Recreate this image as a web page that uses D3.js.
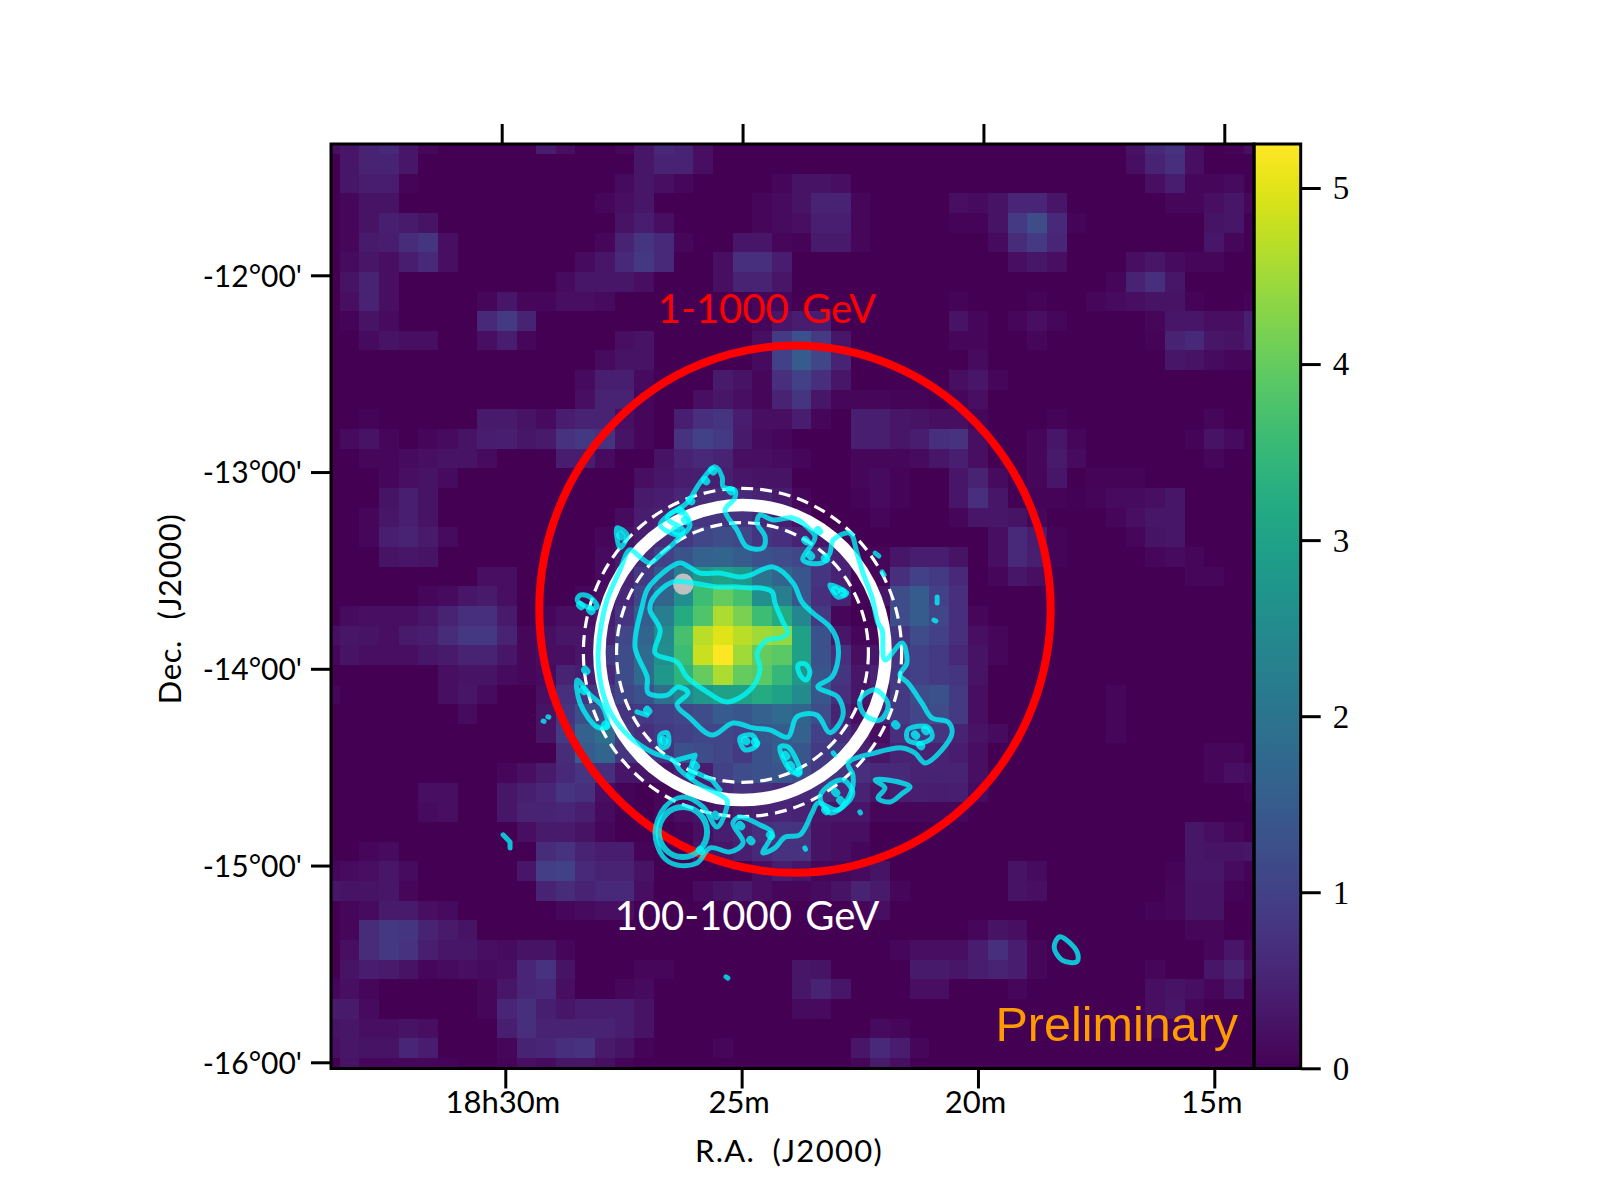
<!DOCTYPE html>
<html><head><meta charset="utf-8">
<style>html,body{margin:0;padding:0;background:#fff}svg{display:block}</style>
<script src="https://cdn.jsdelivr.net/npm/d3@7"></script></head>
<body><svg id="c" width="1600" height="1200"></svg>
<script>
// Significance map, one object per map row: {column: value in hundredths}
const heatRows=[
{0:20,1:30,2:50,3:60,4:30,5:10,11:40,12:20,15:10,16:30,17:60,18:50,19:20,41:25,42:60,43:75,44:20,46:5,47:20},
{1:30,2:50,3:50,4:30,16:30,17:50,18:50,19:20,41:20,42:50,43:70,44:20},
{1:30,2:40,3:40,4:5,15:15,16:30,17:20,18:10,23:10,24:25,25:25,26:20,42:20,43:40,44:10,45:10,46:15},
{1:10,2:25,3:25,14:10,15:20,16:30,22:10,23:15,24:25,25:50,26:50,27:10,32:20,33:15,34:25,35:55,36:55,37:30,43:10,44:10,45:20,46:30,47:10},
{1:10,2:25,3:45,4:35,5:25,15:25,16:40,17:20,22:10,23:15,24:20,25:45,26:45,27:10,32:5,33:5,34:25,35:90,36:120,37:60,38:5,45:25,46:30},
{1:10,2:35,3:40,4:65,5:80,6:20,14:10,15:50,16:80,17:60,18:10,21:30,22:30,23:10,24:5,25:35,26:35,27:10,34:15,35:65,36:90,37:55,45:30,46:10},
{1:15,2:30,3:20,4:40,5:60,6:20,13:15,14:30,15:60,16:85,17:60,20:20,21:70,22:70,23:40,35:20,36:30,37:20,41:20,42:30,43:15,44:10,45:10},
{1:25,2:50,3:20,12:15,13:30,14:30,15:30,16:20,20:20,21:50,22:50,23:30,40:10,41:50,42:70,43:30},
{1:20,2:50,3:20,8:10,9:30,10:10,11:10,12:20,13:20,14:15,22:10,23:10,32:5,36:5,39:10,40:15,41:20,42:25,43:25,44:5,47:5},
{1:5,2:25,3:15,8:60,9:90,10:50,22:10,23:30,24:40,25:40,32:25,33:10,35:10,36:20,37:10,42:10,43:30,44:30,45:20,46:20,47:45},
{2:15,3:25,4:20,5:20,8:20,9:40,10:10,15:20,16:25,22:20,23:90,24:130,25:90,26:30,32:10,33:10,36:10,42:5,43:50,44:60,45:30,46:25,47:40},
{14:15,15:25,16:25,22:15,23:100,24:150,25:110,26:50,33:15,43:30,44:25,45:15,46:10,47:10},
{13:15,14:45,15:45,16:15,20:35,21:25,22:10,23:70,24:100,25:70,26:30,32:20,33:30,34:10},
{13:20,14:50,15:50,16:10,19:20,20:30,21:20,22:10,23:50,24:80,25:30,26:10,27:10,28:10,29:5,30:5,32:10,33:20},
{2:5,8:35,9:35,10:25,11:15,12:40,13:50,14:50,15:20,16:10,18:45,19:70,20:80,21:40,22:20,23:20,24:40,25:10,27:45,28:45,29:30,30:25,31:20,32:20,33:10,37:5,45:10},
{1:15,2:25,3:10,5:10,6:15,7:25,8:40,9:45,10:30,11:35,12:75,13:85,14:75,15:25,16:10,18:75,19:100,20:90,21:35,22:15,23:10,27:45,28:45,29:30,30:40,31:70,32:75,33:20,36:10,37:30,38:10,44:5,45:25,46:15},
{2:10,3:10,4:15,5:20,6:25,7:25,8:15,12:40,13:40,14:15,17:25,18:50,19:60,20:50,21:20,22:20,23:15,24:10,27:10,28:10,29:10,30:15,31:30,32:45,33:20,36:10,37:35,38:15,45:10},
{3:10,4:20,5:25,6:15,16:20,17:30,18:40,19:45,20:45,21:30,22:25,23:25,27:10,28:15,29:5,32:30,33:50,34:15,36:10,37:30,39:5,40:5,41:5},
{3:25,4:45,5:25,16:35,17:40,18:55,19:65,20:70,21:60,22:50,23:35,24:10,27:5,28:15,29:5,32:30,33:70,34:30,36:5,37:5,38:3,39:8,40:15,41:15,42:20,43:30},
{2:10,3:30,4:45,5:25,15:15,16:40,17:50,18:65,19:80,20:80,21:75,22:60,23:45,24:20,28:10,32:10,33:30,34:30,35:25,36:10,40:10,41:20,42:30,43:30},
{2:10,3:45,4:50,5:35,6:15,14:10,15:25,16:45,17:65,18:85,19:110,20:120,21:110,22:80,23:70,24:50,25:30,26:10,34:20,35:60,36:40,37:5,41:10,42:25,43:30},
{3:25,4:30,5:25,14:15,15:35,16:65,17:100,18:135,19:160,20:170,21:150,22:130,23:120,24:110,25:80,26:50,27:10,28:10,29:30,30:40,31:40,32:25,34:20,35:60,36:45,37:5,42:10,43:15,44:10},
{8:20,9:20,14:15,15:50,16:90,17:135,18:220,19:280,20:300,21:280,22:200,23:170,24:140,25:80,26:50,27:10,28:10,29:70,30:100,31:90,32:60,34:10,35:30,36:20,44:10,45:10},
{5:10,6:15,7:30,8:35,9:20,13:10,14:20,15:60,16:110,17:170,18:260,19:360,20:400,21:370,22:260,23:220,24:140,25:70,26:50,27:5,28:30,29:120,30:150,31:100,32:70},
{1:15,2:20,3:20,4:20,5:30,6:50,7:70,8:70,9:35,11:10,12:20,13:20,14:40,15:80,16:150,17:220,18:320,19:380,20:460,21:420,22:360,23:320,24:240,25:90,26:10,29:120,30:150,31:110,32:70,33:10},
{0:20,1:30,2:25,3:20,4:35,5:40,6:65,7:85,8:85,9:50,10:10,11:20,12:30,13:30,14:50,15:110,16:170,17:250,18:370,19:470,20:500,21:470,22:450,23:440,24:300,25:130,26:30,27:10,28:10,29:80,30:120,31:100,32:70,33:20,34:10},
{0:10,1:25,2:20,3:20,4:20,5:30,6:35,7:50,8:50,9:30,10:10,11:20,12:20,13:30,14:90,15:120,16:180,17:260,18:360,19:480,20:525,21:450,22:400,23:390,24:300,25:130,26:70,27:20,28:30,29:80,30:100,31:90,32:60,33:25,34:10},
{6:20,7:25,8:25,9:15,10:10,11:15,12:50,13:40,14:60,15:120,16:180,17:280,18:340,19:400,20:460,21:400,22:390,23:350,24:280,25:140,26:80,27:30,28:50,29:85,30:100,31:90,32:80,33:25},
{0:10,6:20,7:30,8:15,11:20,12:70,13:80,14:90,15:110,16:130,17:190,18:240,19:280,20:300,21:300,22:320,23:300,24:250,25:140,26:70,27:30,28:40,29:90,30:120,31:130,32:90,33:20,40:10},
{7:15,11:25,12:80,13:125,14:120,15:80,16:90,17:100,18:110,19:120,20:150,21:140,22:160,23:180,24:170,25:120,26:50,27:20,28:50,29:90,30:110,31:120,32:90,33:20,40:10},
{11:25,12:90,13:160,14:190,15:90,16:70,17:90,18:100,19:110,20:110,21:100,22:140,23:150,24:160,25:100,26:70,27:40,28:20,29:70,30:90,31:80,32:50,33:25,34:15,40:10},
{12:65,13:150,14:170,15:80,16:70,17:80,18:130,19:120,20:110,21:90,22:130,23:150,24:140,25:90,26:90,27:50,28:30,29:50,30:50,31:50,32:40,33:20,45:10,46:10},
{9:10,10:20,11:35,12:60,13:80,14:70,15:30,16:30,17:30,18:50,19:40,20:100,21:120,22:130,23:140,24:120,25:90,26:80,27:70,28:60,29:60,30:50,31:50,32:50,33:20,45:10,46:20,47:15},
{5:20,6:20,9:30,10:45,11:55,12:80,13:70,14:20,15:5,17:10,18:10,19:40,20:60,21:75,22:70,23:60,24:60,25:70,26:60,27:50,28:30,29:40,30:45,31:40,32:45,33:15,47:5},
{5:15,6:20,9:30,10:50,11:50,12:55,13:45,14:15,17:10,18:20,19:25,20:30,21:45,22:50,23:55,24:50,25:30,26:30,27:30,28:10,29:10,30:10,31:10,32:10},
{10:20,11:35,12:35,13:25,14:10,18:5,19:20,20:40,21:50,22:70,23:80,24:80,25:25,26:20,27:20,44:30,45:20,46:10},
{2:10,3:15,11:65,12:75,13:50,14:40,15:40,16:5,19:30,20:30,21:45,22:60,23:75,24:75,25:25,26:20,27:10,44:30,45:25,46:25,47:30},
{0:10,1:15,2:20,3:30,4:15,10:30,11:95,12:100,13:60,14:50,15:50,16:25,22:20,23:40,24:30,25:10,26:10,27:15,28:25,35:25,36:15,43:5,44:30,45:30,46:15,47:5},
{0:30,1:25,2:25,3:30,4:10,11:50,12:65,13:50,14:60,15:60,16:20,19:15,20:25,21:35,22:20,23:10,24:10,25:15,26:25,27:50,28:35,29:10,35:25,36:20,43:10,44:25,45:25,46:5},
{1:10,2:15,3:35,4:35,5:20,6:15,12:10,13:15,14:20,15:20,27:10,28:20,42:5,43:10,44:25,45:25},
{1:10,2:65,3:85,4:80,5:50,6:35,7:25,33:10,34:25,35:20,44:10,45:10},
{1:20,2:65,3:85,4:75,5:45,6:30,7:30,8:20,9:15,10:25,11:25,12:10,29:10,30:20,31:20,32:20,33:40,34:70,35:40,36:10,45:10,46:30,47:10},
{1:25,2:40,3:35,4:25,5:10,6:15,7:20,8:15,9:20,10:55,11:75,12:25,16:10,17:10,24:30,25:25,30:35,31:35,32:30,33:40,34:50,35:40,36:10,42:10,45:30,46:50,47:20},
{0:10,1:20,2:10,8:10,9:30,10:55,11:60,12:20,15:10,16:15,24:30,25:50,26:30,30:20,31:20,35:10,42:20,43:25,44:20,45:10,46:30},
{0:35,1:35,2:15,8:10,9:55,10:70,11:45,12:30,13:40,14:40,15:40,16:25,24:15,25:15,42:20,43:30,44:10},
{0:25,1:30,2:20,3:20,4:25,5:20,9:45,10:70,11:50,12:50,13:50,14:50,15:40,16:25,28:15,29:10,42:10},
{0:20,1:30,2:25,3:25,4:55,5:40,9:10,10:50,11:55,12:70,13:75,14:35,15:25,16:5,20:10,27:30,28:60,29:40,30:10},
{1:25,2:10,3:10,4:10,5:10,6:5,9:5,10:20,11:15,12:30,13:30,14:20,15:5,27:10,28:35,29:20}
];
const colorMax=5.25;
const colorTicks=[0,1,2,3,4,5];
const raTicks=[30,25,20,15];
const raLabels=["18h30m","25m","20m","15m"];
const decTicks=[-12,-13,-14,-15,-16];
const decLabels=["-12°00'","-13°00'","-14°00'","-15°00'","-16°00'"];
// Map grid in sky terms: RA (minutes) and Dec (degrees) at column 0 / row 0, and the step per cell
const gridRa0=33.857, gridRaStep=-0.41195, gridDec0=-11.2836, gridDecStep=-0.09987;
// Regions: ra (min), dec (deg), radius (deg)
const redRegion={ra:23.90,dec:-13.697,r:1.34};
const whiteRegion={ra:25.0,dec:-13.917,r:0.75};
const dashRegions=[{ra:25.0,dec:-13.917,r:0.834},{ra:25.0,dec:-13.917,r:0.66}];
const sourceRing={ra:26.25,dec:-14.83,r:0.127};
const greyDot={ra:26.24,dec:-13.57,r:0.054};
// Contours: [west, south] arcmin offsets from the white region's centre
const contourInner=[[-21.9,-21.5],[-15.6,-21.2],[-8,-20],[-1.7,-20],[2.4,-19.7],[5.5,-19.7],[9.3,-18.5],[10.2,-15.1],[12.7,-9.3],[14.3,-5.9],[11.8,-4.4],[7.7,-3.8],[4.6,0.2],[5.5,5.3],[2.4,11.4],[-4.9,15.1],[-11.2,12],[-17.5,7.5],[-20.6,2.9],[-27.5,0.2],[-25.9,-6.9],[-29.1,-13],[-28.1,-16.6]];
const contourMiddle=[[-31.6,-13.9],[-30,-19.1],[-26.9,-22.7],[-19.7,-27.3],[-13.4,-24.2],[-7.1,-24.2],[-0.8,-23],[2.4,-23.6],[9.6,-26.1],[15.9,-21.2],[18.7,-15.4],[22.2,-12],[27.5,-7.8],[29.7,-3.8],[30,2.3],[28.1,7.5],[23.7,10.5],[30,13.6],[31.6,19.1],[27.5,24.5],[23.4,19.1],[17.1,19.6],[14.3,25.8],[8.6,23.6],[3.3,23],[-3,21.5],[-9.6,25.2],[-16.5,20],[-20.6,16],[-17.1,12.3],[-20.3,10.5],[-23.7,13],[-29.7,12.3],[-30,7.5],[-33.8,-1.7]];
const contourOuter=[[-43.9,12.3],[-45.4,2.3],[-44.8,-5.9],[-42.6,-16],[-38.5,-25.2],[-35.4,-31.3],[-32.2,-29.1],[-29.1,-27.3],[-25.9,-29.7],[-20.6,-34.3],[-18.7,-37.3],[-23.7,-41],[-17.5,-45.6],[-13.4,-51.7],[-8.6,-56.6],[-6.4,-53.5],[-6.1,-50.5],[-2.4,-49.5],[-2.4,-47.1],[-5.5,-43.4],[-1.7,-37.3],[1.4,-32.2],[6.4,-31.9],[7.1,-35.2],[4.6,-39.5],[5.5,-41.9],[9.6,-40.4],[15.9,-41],[20.3,-38.3],[22.8,-35.2],[19,-28.2],[25,-27.3],[27.5,-30.3],[28.5,-34.3],[33.8,-36.4],[36,-30.3],[37.9,-24.2],[40.7,-16.9],[42.6,-9],[43.9,-6.9],[44.8,2.3],[50.2,-2.9],[51.7,3.2],[49.5,6.9],[52,9.3],[56.4,15.4],[59.6,20],[64.6,21.2],[65.9,24.5],[62.7,29.7],[57.4,33.7],[54.2,30.6],[50.2,29.1],[41.7,30.6],[33.2,33.7],[34.7,37.3],[34.4,41.9],[30,48],[23.7,45.9],[21.9,48.9],[18.1,55.6],[13.4,56.3],[10.2,59.6],[6.4,61.1],[9.3,55],[5.5,52.6],[-0.8,50.2],[-3,52],[0.2,58.1],[-3.9,60.8],[-10.2,59.6],[-14.3,64.2],[-20.6,64.8],[-25,62.3],[-27.5,55],[-24.4,47.1],[-18.7,44.1],[-12.4,47.1],[-8,53.2],[-4.9,47.1],[-4.9,45],[-14.3,39.8],[-19.7,35.8],[-21.9,32.8],[-28.1,30.6],[-35.4,25.8],[-40.7,19.7]];
const contourIslands=[
[[-52,-16],[-47.9,-13.6],[-45.7,-13.9],[-47.9,-16.9],[-51,-17.5]],
[[-52,8.4],[-51.1,15.4],[-45.7,22.7],[-42.6,22.7],[-43.9,16.6],[-47.9,13]],
[[-39.5,-38],[-36.3,-35.8],[-38.5,-31.9]],
[[-25.9,-38.9],[-19.7,-43.4],[-16.5,-38.9],[-19.7,-35.8]],
[[27.5,-20.6],[32.8,-18.1],[30,-16.9]],
[[41.7,-30.3],[42.9,-29.4]],[[43.9,-24.6],[44.5,-23.7]],
[[61.2,-16.9],[61.2,-15.1]],[[60.2,-9.9],[60.8,-9.6]],
[[17.5,3.8],[19.7,3.5],[21.2,5.9],[20,8.4],[18.1,6.9]],
[[52,23.6],[58.3,22.7],[59.6,25.8],[56.4,27.6],[52,26.7]],
[[41.7,38.9],[45.8,38.9],[52.7,41],[50.2,43],[46.4,45.6],[42.6,44.4],[44.8,41.3]],
[[36.9,14.5],[41.7,11.4],[45.8,16],[43.2,20.6],[38.5,19.1]],
[[26.6,41],[24.4,44.1],[27.5,48.9],[32.9,45.9],[34.7,42.8],[31.6,38.9]],
[[-0.8,26.1],[3,25.2],[4.6,28.2],[0.8,29.7]],
[[11.8,28.8],[13.4,33.7],[15.5,36.4],[18.1,36.7],[14.3,28.8]],
[[-25.9,25.2],[-23.7,24.5],[-23.4,28.2],[-25.3,29.1]],
[[-33.2,18.1],[-30,19.1]],
[[99.8,86.7],[105.2,91.3],[105.2,94.3],[100.5,93.8],[98,89.8]]
];
const contourOpen=[
[[-20.6,32.8],[-14.9,31.3],[-16.5,35.8],[-9.6,38.9],[-7.1,41.9]],
[[-75.3,55.6],[-73.1,57.8],[-73.1,59.6]],
[[-5.2,98.9],[-4.6,99.3]],[[-62.7,20.9],[-62.4,21]],[[-61.2,19.6],[-60.9,19.7]],
[[28.5,30.6],[29,31.2]],[[19.6,59.6],[19.8,60]],[[36.9,48.6],[37.1,48.9]]
];
// Small knots where the contours bunch up
const contourKnots=[[-11.8,-52.6],[-9.6,-55.6],[-3.9,-49.5],[-19.7,-43.4],[-18.1,-40.4],[-21.2,-37.3],[-16.5,-46.5],[-51.1,-14.5],[-47.9,-13],[-38.5,-35.8],[19.7,-34.3],[21.2,-29.7],[25.9,-28.8],[29.1,-19.1],[31.3,-18.5],[23.7,-37.3],[0.8,26.7],[3.9,27.3],[13.4,31.3],[14.9,34.3],[17.1,36.4],[29.1,42.5],[30.7,45],[26,48],[48,21.9],[54.2,25],[57.4,23.6],[55.8,28.2],[-49.5,5.3],[-50.2,11.4],[-43.2,22],[-30,17.5],[-25,26.7],[-15,34.3],[-16.5,37.3],[-0.8,52.6],[2.4,57.2],[8.6,55.6],[-8.6,49.5],[-13.4,60.2]];
const regionLabels=[{t:"1-1000 GeV",c:"#ff0000",x:767,y:323},{t:"100-1000 GeV",c:"#ffffff",x:747,y:930}];

const svg=d3.select("#c");
const frame={l:331,r:1254,t:144,b:1068.5};
const xSky=d3.scaleLinear().domain([30,15]).range([504,1219.5]);
const ySky=d3.scaleLinear().domain([-12,-16]).range([275.3,1062.3]);
const xBottom=d3.scaleLinear().domain([30,15]).range([505.3,1214.3]);
const xTop=d3.scaleLinear().domain([30,15]).range([501.7,1224.3]);
const yColor=d3.scaleLinear().domain([0,colorMax]).range([1068.3,144]);
const color=d3.scaleSequential(d3.interpolateViridis).domain([0,colorMax]);
const font="Lato, 'Noto Sans', sans-serif";

const defs=svg.append("defs");
defs.append("clipPath").attr("id","fr").append("rect")
 .attr("x",frame.l).attr("y",frame.t).attr("width",frame.r-frame.l).attr("height",frame.b-frame.t);
const grad=defs.append("linearGradient").attr("id","cb").attr("x1",0).attr("y1",1).attr("x2",0).attr("y2",0);
d3.range(0,65).forEach(i=>grad.append("stop").attr("offset",i/64).attr("stop-color",d3.interpolateViridis(i/64)));

const map=svg.append("g").attr("clip-path","url(#fr)");
map.append("rect").attr("x",frame.l).attr("y",frame.t).attr("width",frame.r-frame.l).attr("height",frame.b-frame.t).attr("fill",color(0));
const cells=[];
heatRows.forEach((row,r)=>Object.keys(row).forEach(c=>cells.push({c:+c,r,v:row[c]/100})));
const xEdge=c=>xSky(gridRa0+gridRaStep*c), yEdge=r=>ySky(gridDec0+gridDecStep*r);
map.selectAll("rect.cell").data(cells).join("rect").attr("class","cell")
 .attr("x",d=>xEdge(d.c)).attr("y",d=>yEdge(d.r))
 .attr("width",d=>xEdge(d.c+1)-xEdge(d.c)).attr("height",d=>yEdge(d.r+1)-yEdge(d.r))
 .attr("fill",d=>color(d.v)).attr("shape-rendering","crispEdges");

const ell=(g,d)=>g.append("ellipse").attr("cx",xSky(d.ra)).attr("cy",ySky(d.dec))
 .attr("rx",Math.abs(xSky(d.ra+d.r*4)-xSky(d.ra))).attr("ry",Math.abs(ySky(d.dec-d.r)-ySky(d.dec))).attr("fill","none");
ell(map,redRegion).attr("stroke","#ff0000").attr("stroke-width",8);
ell(map,whiteRegion).attr("stroke","#ffffff").attr("stroke-width",12.5);
dashRegions.forEach(d=>ell(map,d).attr("stroke","#ffffff").attr("stroke-width",3.2).attr("stroke-dasharray","12,7"));
ell(map,greyDot).attr("fill","#c0c0c0");

const off=p=>[xSky(whiteRegion.ra-p[0]/15),ySky(whiteRegion.dec-p[1]/60)];
const closed=d3.line().x(p=>off(p)[0]).y(p=>off(p)[1]).curve(d3.curveCatmullRomClosed.alpha(0.5));
const open=d3.line().x(p=>off(p)[0]).y(p=>off(p)[1]);
const cg=map.append("g").attr("fill","none").attr("stroke","#00ffff").attr("stroke-opacity",0.75)
 .attr("stroke-width",5).attr("stroke-linejoin","round").attr("stroke-linecap","round");
[contourOuter,contourMiddle,contourInner].concat(contourIslands).forEach(c=>cg.append("path").attr("d",closed(c)));
contourOpen.forEach(c=>cg.append("path").attr("d",open(c)));
cg.selectAll("path.knot").data(contourKnots).join("path").attr("class","knot")
 .attr("d",p=>open([p,[p[0]+0.4,p[1]+0.4]])).attr("stroke-width",8);
ell(cg,sourceRing).attr("stroke-width",6);

regionLabels.forEach(d=>svg.append("text").attr("x",d.x).attr("y",d.y).attr("text-anchor","middle")
 .attr("font-family",font).attr("font-size",40).attr("fill",d.c).attr("word-spacing",3).text(d.t));
svg.append("text").attr("x",995.5).attr("y",1041).attr("font-family","'Liberation Sans',Arial,sans-serif")
 .attr("font-size",48.5).attr("fill","#ff9a00").text("Preliminary");

// Colour bar
svg.append("rect").attr("x",frame.r).attr("y",yColor(colorMax)).attr("width",1300.7-frame.r).attr("height",yColor(0)-yColor(colorMax)).attr("fill","url(#cb)");
const strokeAxis=g=>{g.selectAll(".domain").remove();g.selectAll("line").attr("stroke","#000").attr("stroke-width",3);
 g.selectAll("text").attr("fill","#000");};
svg.append("g").attr("transform","translate(1300.7,0)")
 .call(d3.axisRight(yColor).tickValues(colorTicks).tickSize(20).tickPadding(12).tickFormat(d3.format("d")))
 .call(strokeAxis).call(g=>g.selectAll("text").attr("font-family","'Liberation Serif',serif").attr("font-size",33).attr("dy","0.33em"));
svg.append("rect").attr("x",frame.r).attr("y",frame.t).attr("width",1300.7-frame.r).attr("height",frame.b-frame.t)
 .attr("fill","none").attr("stroke","#000").attr("stroke-width",3);

// Frame and axes
svg.append("rect").attr("x",frame.l).attr("y",frame.t).attr("width",frame.r-frame.l).attr("height",frame.b-frame.t)
 .attr("fill","none").attr("stroke","#000").attr("stroke-width",3);
svg.append("g").attr("transform",`translate(0,${frame.b})`)
 .call(d3.axisBottom(xBottom).tickValues(raTicks).tickSize(20).tickFormat((d,i)=>raLabels[i]))
 .call(strokeAxis).call(g=>g.selectAll("text").attr("font-family",font).attr("font-size",31).attr("y",44).attr("dy",0).attr("dx",-3));
svg.append("g").attr("transform",`translate(0,${frame.t})`)
 .call(d3.axisTop(xTop).tickValues(raTicks).tickSize(20).tickFormat(""))
 .call(strokeAxis);
svg.append("g").attr("transform",`translate(${frame.l},0)`)
 .call(d3.axisLeft(ySky).tickValues(decTicks).tickSize(20).tickPadding(9).tickFormat((d,i)=>decLabels[i]))
 .call(strokeAxis).call(g=>g.selectAll("text").attr("font-family",font).attr("font-size",30).attr("dy","0.36em"));
svg.append("text").attr("x",789).attr("y",1162).attr("text-anchor","middle").attr("font-family",font).attr("font-size",31)
 .attr("word-spacing",8).attr("letter-spacing",1.3).text("R.A. (J2000)");
svg.append("text").attr("transform","translate(181,609) rotate(-90)").attr("text-anchor","middle").attr("font-family",font).attr("font-size",31)
 .attr("word-spacing",12).attr("letter-spacing",0.6).text("Dec. (J2000)");
</script></body></html>
